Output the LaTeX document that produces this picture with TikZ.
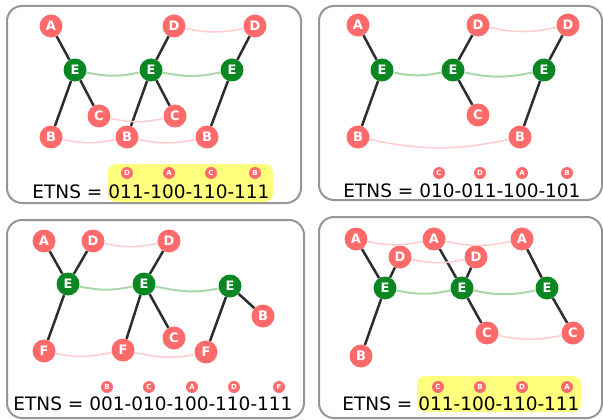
\documentclass[tikz,border=0pt]{standalone}
\usepackage{fontspec}
\setmainfont{DejaVu Sans}
\usetikzlibrary{positioning}
\definecolor{nodered}{RGB}{255,107,107}
\definecolor{nodegreen}{RGB}{10,135,35}
\definecolor{edgegray}{RGB}{45,45,45}
\definecolor{linkpink}{RGB}{255,205,205}
\definecolor{linkgreen}{RGB}{170,215,170}
\definecolor{framegray}{RGB}{150,150,150}
\definecolor{marker}{RGB}{255,255,125}
\begin{document}
\begin{tikzpicture}[x=1pt,y=1pt,
every node/.style={circle,fill=nodered,text=white,inner sep=0pt,minimum size=23pt,
font=\fontsize{13}{13}\selectfont\bfseries},
hub/.style={fill=nodegreen},
tiny/.style={minimum size=12pt,font=\fontsize{7}{7}\selectfont\bfseries},
etns/.style={rectangle,fill=none,text=black,minimum size=0pt,anchor=base,
font=\fontsize{18.5}{20}\selectfont},
bond/.style={draw=edgegray,line width=2.5pt},
link/.style={draw=linkpink,line width=1.5pt,out=-12,in=192},
glink/.style={draw=linkgreen,line width=2pt,out=-12,in=192},
frame/.style={draw=framegray,line width=2pt,rounded corners=15pt},
hilite/.style={fill=marker,rounded corners=8pt}]
\useasboundingbox (0,0) rectangle (603,-420);
\draw[frame] (7,-6) rectangle (301,-203);
\draw[frame] (319,-6) rectangle (602,-200);
\draw[frame] (7,-220) rectangle (304,-418);
\draw[frame] (319,-217) rectangle (602,-418);
\fill[hilite] (108,-164) rectangle (273,-202);
\fill[hilite] (417,-376) rectangle (581,-412);

\node (PA) at (51,-26) {A};
\node (PD1) at (174,-26) {D};
\node (PD2) at (255,-26) {D};
\node[hub] (PE1) at (75,-70) {E};
\node[hub] (PE2) at (151,-70) {E};
\node[hub] (PE3) at (232,-70) {E};
\node (PC1) at (99,-116) {C};
\node (PC2) at (175,-116) {C};
\node (PB1) at (51,-137) {B};
\node (PB2) at (127,-137) {B};
\node (PB3) at (207,-137) {B};
\node[tiny] (PK1) at (127,-173) {D};
\node[tiny] (PK2) at (169,-173) {A};
\node[tiny] (PK3) at (211,-173) {C};
\node[tiny] (PK4) at (255,-173) {B};
\node[etns] (PT) at (151,-198) {ETNS = 011-100-110-111};
\draw[bond] (PA)--(PE1)--(PC1);
\draw[bond] (PE1)--(PB1);
\draw[bond] (PD1)--(PE2)--(PC2);
\draw[bond] (PE2)--(PB2);
\draw[bond] (PD2)--(PE3)--(PB3);
\draw[glink] (PE1) to (PE2) (PE2) to (PE3);
\draw[link] (PD1) to (PD2) (PC1) to (PC2) (PB1) to (PB2) (PB2) to (PB3);

\node (QA) at (358,-25) {A};
\node (QD1) at (478,-25) {D};
\node (QD2) at (568,-25) {D};
\node[hub] (QE1) at (382,-70) {E};
\node[hub] (QE2) at (453,-70) {E};
\node[hub] (QE3) at (544,-70) {E};
\node (QC) at (478,-115) {C};
\node (QB1) at (358,-137) {B};
\node (QB2) at (520,-137) {B};
\node[tiny] (QK1) at (439,-173) {C};
\node[tiny] (QK2) at (480,-173) {D};
\node[tiny] (QK3) at (522,-173) {A};
\node[tiny] (QK4) at (567,-173) {B};
\node[etns] (QT) at (462,-197) {ETNS = 010-011-100-101};
\draw[bond] (QA)--(QE1)--(QB1);
\draw[bond] (QD1)--(QE2)--(QC);
\draw[bond] (QD2)--(QE3)--(QB2);
\draw[glink] (QE1) to (QE2) (QE2) to (QE3);
\draw[link] (QD1) to (QD2) (QB1) to (QB2);

\node (RA) at (44,-241) {A};
\node (RD1) at (93,-241) {D};
\node (RD2) at (169,-241) {D};
\node[hub] (RE1) at (68,-284) {E};
\node[hub] (RE2) at (144,-284) {E};
\node[hub] (RE3) at (230,-286) {E};
\node (RB) at (263,-316) {B};
\node (RC) at (174,-338) {C};
\node (RF1) at (44,-351) {F};
\node (RF2) at (123,-350) {F};
\node (RF3) at (206,-352) {F};
\node[tiny] (RK1) at (107,-387) {B};
\node[tiny] (RK2) at (149,-387) {C};
\node[tiny] (RK3) at (192,-387) {A};
\node[tiny] (RK4) at (234,-387) {D};
\node[tiny] (RK5) at (279,-387) {F};
\node[etns] (RT) at (153,-410) {ETNS = 001-010-100-110-111};
\draw[bond] (RA)--(RE1)--(RF1);
\draw[bond] (RD1)--(RE1);
\draw[bond] (RD2)--(RE2)--(RF2);
\draw[bond] (RE2)--(RC);
\draw[bond] (RB)--(RE3)--(RF3);
\draw[glink] (RE1) to (RE2) (RE2) to (RE3);
\draw[link] (RD1) to (RD2) (RF1) to (RF2) (RF2) to (RF3);

\node (SA1) at (356,-239) {A};
\node (SA2) at (434,-239) {A};
\node (SA3) at (522,-239) {A};
\node (SD1) at (400,-257) {D};
\node (SD2) at (476,-257) {D};
\node[hub] (SE1) at (385,-288) {E};
\node[hub] (SE2) at (462,-288) {E};
\node[hub] (SE3) at (547,-288) {E};
\node (SC1) at (487,-333) {C};
\node (SC2) at (573,-333) {C};
\node (SB) at (361,-356) {B};
\node[tiny] (SK1) at (438,-387) {C};
\node[tiny] (SK2) at (480,-387) {B};
\node[tiny] (SK3) at (522,-387) {D};
\node[tiny] (SK4) at (567,-387) {A};
\node[etns] (ST) at (461,-410) {ETNS = 011-100-110-111};
\draw[bond] (SA1)--(SE1)--(SB);
\draw[bond] (SD1)--(SE1);
\draw[bond] (SA2)--(SE2)--(SC1);
\draw[bond] (SD2)--(SE2);
\draw[bond] (SA3)--(SE3)--(SC2);
\draw[glink] (SE1) to (SE2) (SE2) to (SE3);
\draw[link] (SA1) to (SA2) (SA2) to (SA3) (SD1) to (SD2) (SC1) to (SC2);
\end{tikzpicture}
\end{document}
